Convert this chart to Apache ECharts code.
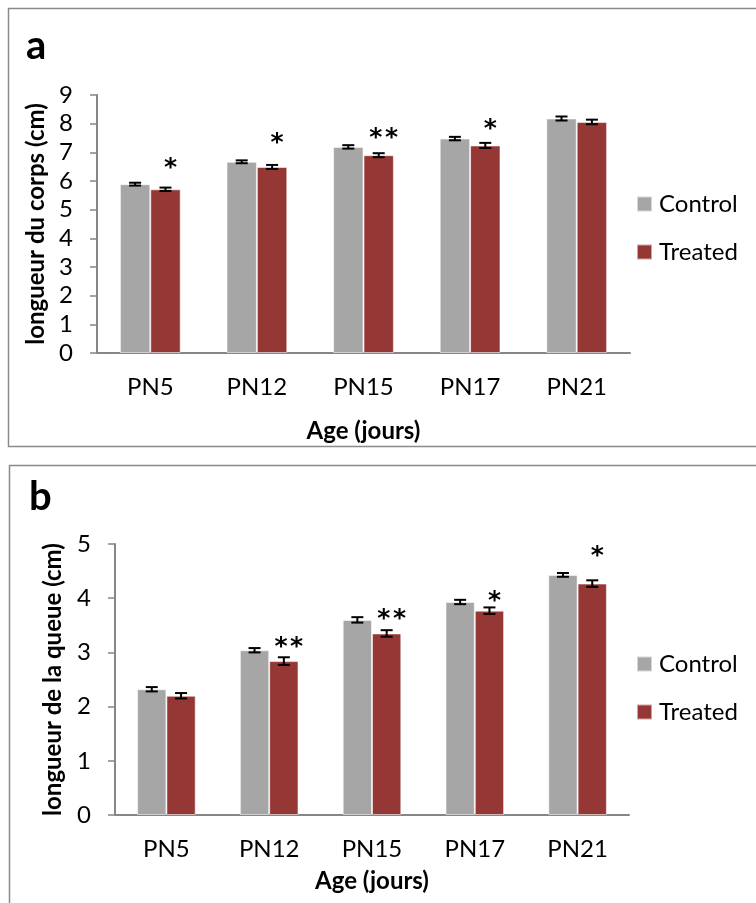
<!DOCTYPE html>
<html>
<head>
<meta charset="utf-8">
<script src="https://cdn.jsdelivr.net/npm/echarts@6/dist/echarts.min.js"></script>
<style>
  html, body { margin: 0; padding: 0; background: #fff; }
  #chart { width: 756px; height: 903px; }
</style>
</head>
<body>
<div id="chart"></div>
<script>
// Postnatal ages
const ages = ['PN5', 'PN12', 'PN15', 'PN17', 'PN21'];

// (a) body length, cm — means and standard errors
const bodyControl    = [5.89, 6.67, 7.19, 7.48, 8.18];
const bodyTreated    = [5.71, 6.49, 6.90, 7.24, 8.06];
const bodyControlErr = [0.05, 0.05, 0.06, 0.06, 0.07];
const bodyTreatedErr = [0.06, 0.07, 0.07, 0.09, 0.08];
// significance marks and the level (cm) they are written at
const bodySig        = ['*', '*', '**', '*', ''];
const bodySigLevel   = [6.65, 7.53, 7.69, 7.99, null];

// (b) tail length, cm — means and standard errors
const tailControl    = [2.32, 3.04, 3.60, 3.93, 4.43];
const tailTreated    = [2.20, 2.84, 3.35, 3.77, 4.27];
const tailControlErr = [0.04, 0.04, 0.05, 0.04, 0.035];
const tailTreatedErr = [0.05, 0.07, 0.06, 0.06, 0.06];
const tailSig        = ['', '**', '**', '*', '*'];
const tailSigLevel   = [null, 3.20, 3.71, 4.05, 4.88];

const bodyAxisMax = 9;
const tailAxisMax = 5;

const FONT = 'Lato';
const GREY = '#A6A6A6';
const RED = '#953735';
const AXIS = '#868686';
const CAT_GAP = 0.43;

const chart = echarts.init(document.getElementById('chart'), null, { renderer: 'canvas' });

function xAxisFor(gridIndex, nameGap) {
  return {
    type: 'category', gridIndex, data: ages,
    axisLine: { lineStyle: { color: AXIS, width: 2 } },
    axisTick: { show: false },
    axisLabel: { color: '#000', fontFamily: FONT, fontSize: 24, margin: 22 },
    name: 'Age (jours)', nameLocation: 'middle', nameGap,
    nameTextStyle: { color: '#000', fontFamily: FONT, fontSize: 24, fontWeight: 'bold' }
  };
}

function yAxisFor(gridIndex, max, name, nameGap) {
  return {
    type: 'value', gridIndex, min: 0, max, interval: 1,
    axisLine: { show: true, lineStyle: { color: AXIS, width: 2 } },
    axisTick: { show: true, length: 7, lineStyle: { color: AXIS, width: 1.5 } },
    splitLine: { show: false },
    axisLabel: { color: '#000', fontFamily: FONT, fontSize: 24, margin: 24 },
    name, nameLocation: 'middle', nameGap, nameRotate: 90,
    nameTextStyle: { color: '#000', fontFamily: FONT, fontSize: 24, fontWeight: 'bold' }
  };
}

function barSeries(name, values, axisIndex, color) {
  return {
    name, type: 'bar', xAxisIndex: axisIndex, yAxisIndex: axisIndex,
    data: values, barGap: '0%', barCategoryGap: (CAT_GAP * 100) + '%',
    itemStyle: { color, borderColor: 'rgba(255,255,255,0.55)', borderWidth: 1 },
    emphasis: { disabled: true }, animation: false
  };
}

// Error bars, plus significance stars over the treated bars
function errorSeries(axisIndex, values, errs, side, sig, sigLevel) {
  return {
    type: 'custom', xAxisIndex: axisIndex, yAxisIndex: axisIndex, z: 10,
    silent: true, animation: false,
    data: values.map((v, i) => [i, v, errs[i]]),
    renderItem(params, api) {
      const i = api.value(0), v = api.value(1), e = api.value(2);
      const band = api.size([1, 0])[0];
      const cx = api.coord([i, v])[0] + side * band * (1 - CAT_GAP) / 4;
      const top = api.coord([i, v + e])[1];
      const bot = api.coord([i, v - e])[1];
      const half = 6;
      const st = { stroke: '#000', lineWidth: 2 };
      const children = [
        { type: 'line', shape: { x1: cx, y1: top, x2: cx, y2: bot }, style: st },
        { type: 'line', shape: { x1: cx - half, y1: top, x2: cx + half, y2: top }, style: st },
        { type: 'line', shape: { x1: cx - half, y1: bot, x2: cx + half, y2: bot }, style: st }
      ];
      const s = sig ? sig[params.dataIndex] : '';
      if (s) {
        // the asterisk sits high in its line box, so drop the box a little;
        // a hair space keeps double stars apart
        const sy = api.coord([i, sigLevel[params.dataIndex]])[1] + 6;
        children.push({
          type: 'text',
          style: {
            text: s.split('').join('\u200A'), x: cx + 5, y: sy,
            align: 'center', verticalAlign: 'middle',
            font: 'bold 25px "DejaVu Sans"', fill: '#000'
          }
        });
      }
      return { type: 'group', children };
    }
  };
}

function legendFor(top) {
  return {
    orient: 'vertical', left: 636, top, padding: 0,
    data: ['Control', 'Treated'],
    icon: 'rect', itemWidth: 15, itemHeight: 15, itemGap: 24,
    textStyle: { color: '#000', fontFamily: FONT, fontSize: 24, padding: [0, 0, 0, 2] },
    selectedMode: false
  };
}

chart.setOption({
  backgroundColor: '#fff',
  animation: false,
  grid: [
    { left: 97, top: 95, width: 533, height: 258 },
    { left: 115, top: 544, width: 514, height: 271 }
  ],
  xAxis: [xAxisFor(0, 66), xAxisFor(1, 54)],
  yAxis: [
    yAxisFor(0, bodyAxisMax, 'longueur du corps (cm)', 48),
    yAxisFor(1, tailAxisMax, 'longueur de la queue (cm)', 50)
  ],
  legend: [legendFor(192), legendFor(652)],
  series: [
    barSeries('Control', bodyControl, 0, GREY),
    barSeries('Treated', bodyTreated, 0, RED),
    errorSeries(0, bodyControl, bodyControlErr, -1, null, null),
    errorSeries(0, bodyTreated, bodyTreatedErr, 1, bodySig, bodySigLevel),
    barSeries('Control', tailControl, 1, GREY),
    barSeries('Treated', tailTreated, 1, RED),
    errorSeries(1, tailControl, tailControlErr, -1, null, null),
    errorSeries(1, tailTreated, tailTreatedErr, 1, tailSig, tailSigLevel)
  ],
  graphic: [
    { type: 'rect', shape: { x: 8.5, y: 8.5, width: 800, height: 438 },
      style: { fill: 'none', stroke: '#8a8a8a', lineWidth: 1.5 }, silent: true },
    { type: 'rect', shape: { x: 9.5, y: 465.5, width: 800, height: 500 },
      style: { fill: 'none', stroke: '#8a8a8a', lineWidth: 1.5 }, silent: true },
    { type: 'text', left: 26, top: 26,
      style: { text: 'a', font: 'bold 40px Lato', fill: '#000' } },
    { type: 'text', left: 29, top: 477,
      style: { text: 'b', font: 'bold 40px Lato', fill: '#000' } }
  ]
});
</script>
</body>
</html>
